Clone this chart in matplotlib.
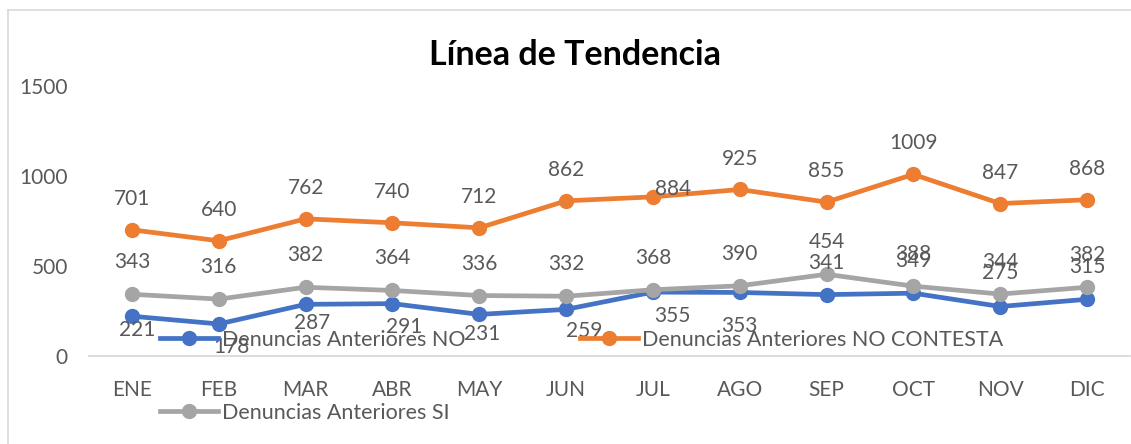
import matplotlib
matplotlib.use("Agg")
import matplotlib.pyplot as plt
from matplotlib.lines import Line2D

# ---- data ----
months = ["ENE", "FEB", "MAR", "ABR", "MAY", "JUN", "JUL", "AGO", "SEP", "OCT", "NOV", "DIC"]
den_no = [221, 178, 287, 291, 231, 259, 355, 353, 341, 349, 275, 315]
den_no_contesta = [701, 640, 762, 740, 712, 862, 884, 925, 855, 1009, 847, 868]
den_si = [343, 316, 382, 364, 336, 332, 368, 390, 454, 388, 344, 382]
series_names = ["Denuncias Anteriores NO", "Denuncias Anteriores NO CONTESTA", "Denuncias Anteriores SI"]
y_ticks = [0, 500, 1000, 1500]
title = "Línea de Tendencia"

# label offsets (pixels, dx, dy with +dy = up)
off_no = [(5, -14), (13, -23), (6, -19), (12, -23), (3, -20), (18, -22),
          (19, -24), (0, -34), (0, 32), (0, 32), (0, 34), (0, 32)]
off_nc = [(0, 31)] * 6 + [(20, 8)] + [(0, 31)] * 5
off_si = [(0, 32)] * 12

colors = ["#4472C4", "#ED7D31", "#A5A5A5"]
txt = "#595959"
W, H = 1131, 444
fs = 15

plt.rcParams['font.family'] = ['Lato', 'DejaVu Sans']

fig = plt.figure(figsize=(W / 100, H / 100), dpi=100)
ax = fig.add_axes([88.6 / W, 1 - 356 / H, (1130.4 - 88.6) / W, 270 / H])

x = list(range(len(months)))
for vals, c, name, offs in [(den_no, colors[0], series_names[0], off_no),
                            (den_no_contesta, colors[1], series_names[1], off_nc),
                            (den_si, colors[2], series_names[2], off_si)]:
    ax.plot(x, vals, color=c, lw=3.4, marker='o', markersize=10,
            solid_capstyle='round', label=name)
    for xi, v, (dx, dy) in zip(x, vals, offs):
        ax.annotate(str(v), (xi, v), xytext=(dx, dy), textcoords='offset pixels',
                    ha='center', va='center', fontsize=fs, color=txt, zorder=10)

ax.set_xlim(-0.5, len(months) - 0.5)
ax.set_ylim(0, 1500)
ax.set_yticks(y_ticks)
ax.set_yticklabels([str(t) for t in y_ticks])
ax.set_xticks(x)
ax.set_xticklabels(months)
ax.tick_params(axis='y', length=0, pad=15, labelsize=fs, labelcolor=txt)
ax.tick_params(axis='x', length=0, pad=17, labelsize=fs, labelcolor=txt)
for s in ['top', 'right', 'left']:
    ax.spines[s].set_visible(False)
ax.spines['bottom'].set_color('#D9D9D9')
ax.spines['bottom'].set_linewidth(1.3)
ax.patch.set_alpha(0)

fig.text(575 / W, 1 - 55 / H, title, ha='center', va='center',
         fontsize=24.5, fontweight='bold', color='black')

# legend entries placed individually
legend_pos = [(160, 340, 0), (580, 340, 1), (160, 413, 2)]
for lx, ly, i in legend_pos:
    h = Line2D([0], [0], color=colors[i], lw=3.4, marker='o', markersize=10)
    fig.legend([h], [series_names[i]], loc='center left',
               bbox_to_anchor=(lx / W, 1 - ly / H), frameon=False,
               borderpad=0, borderaxespad=0, handlelength=2.7,
               handletextpad=0.2, fontsize=fs + 0.5, labelcolor=txt)

# chart area border (top and left edges visible)
fig.add_artist(Line2D([8 / W, 8 / W], [0, 1 - 10 / H], color='#D9D9D9', lw=1.2,
                      transform=fig.transFigure))
fig.add_artist(Line2D([8 / W, 1], [1 - 10 / H, 1 - 10 / H], color='#D9D9D9', lw=1.2,
                      transform=fig.transFigure))

fig.savefig("out.png", dpi=100)
